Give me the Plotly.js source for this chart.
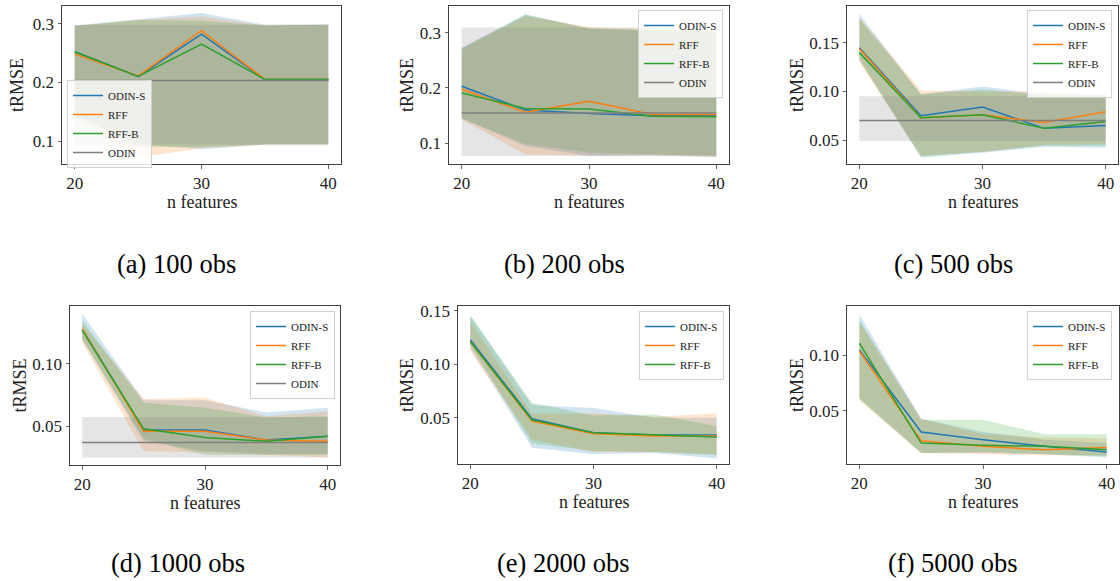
<!DOCTYPE html>
<html><head><meta charset="utf-8">
<script src="https://cdn.plot.ly/plotly-3.0.1.min.js"></script>
<style>html,body{margin:0;padding:0;background:#fff}#chart{width:1120px;height:581px}</style>
</head><body><div id="chart"></div>
<script>
// ---------- DATA ----------
const nFeatures = [20, 25, 30, 35, 40];
const seriesNames = ['ODIN-S', 'RFF', 'RFF-B', 'ODIN'];
const captions = ['(a) 100 obs', '(b) 200 obs', '(c) 500 obs', '(d) 1000 obs', '(e) 2000 obs', '(f) 5000 obs'];
const xTicks = [20, 30, 40];
const xLabel = 'n features';
const yLabel = 'tRMSE';

// (a) 100 obs
const a_odinS = [0.252, 0.210, 0.282, 0.205, 0.205];
const a_odinS_hi = [0.297, 0.307, 0.318, 0.298, 0.299];
const a_odinS_lo = [0.145, 0.095, 0.086, 0.094, 0.094];
const a_rff = [0.248, 0.211, 0.288, 0.205, 0.205];
const a_rff_hi = [0.296, 0.306, 0.312, 0.297, 0.298];
const a_rff_lo = [0.140, 0.072, 0.088, 0.094, 0.094];
const a_rffB = [0.252, 0.210, 0.265, 0.205, 0.205];
const a_rffB_hi = [0.296, 0.306, 0.305, 0.297, 0.298];
const a_rffB_lo = [0.145, 0.090, 0.090, 0.094, 0.094];
const a_yTicks = [0.1, 0.2, 0.3];

// (b) 200 obs
const b_odinS = [0.203, 0.160, 0.154, 0.150, 0.150];
const b_odinS_hi = [0.272, 0.333, 0.307, 0.303, 0.300];
const b_odinS_lo = [0.145, 0.095, 0.077, 0.078, 0.075];
const b_rff = [0.198, 0.156, 0.176, 0.152, 0.152];
const b_rff_hi = [0.270, 0.330, 0.310, 0.306, 0.302];
const b_rff_lo = [0.143, 0.080, 0.078, 0.079, 0.076];
const b_rffB = [0.191, 0.163, 0.162, 0.149, 0.148];
const b_rffB_hi = [0.272, 0.332, 0.308, 0.304, 0.300];
const b_rffB_lo = [0.145, 0.099, 0.083, 0.080, 0.078];
const b_yTicks = [0.1, 0.2, 0.3];

// (c) 500 obs
const c_odinS = [0.145, 0.075, 0.084, 0.062, 0.065];
const c_odinS_hi = [0.180, 0.097, 0.105, 0.097, 0.097];
const c_odinS_lo = [0.133, 0.032, 0.037, 0.043, 0.042];
const c_rff = [0.144, 0.073, 0.076, 0.068, 0.079];
const c_rff_hi = [0.176, 0.101, 0.100, 0.100, 0.097];
const c_rff_lo = [0.130, 0.034, 0.038, 0.045, 0.046];
const c_rffB = [0.140, 0.073, 0.076, 0.062, 0.069];
const c_rffB_hi = [0.175, 0.097, 0.102, 0.096, 0.096];
const c_rffB_lo = [0.133, 0.033, 0.038, 0.044, 0.044];
const c_yTicks = [0.05, 0.10, 0.15];

// (d) 1000 obs
const d_odinS = [0.128, 0.047, 0.047, 0.039, 0.042];
const d_odinS_hi = [0.140, 0.071, 0.071, 0.061, 0.065];
const d_odinS_lo = [0.119, 0.038, 0.030, 0.028, 0.028];
const d_rff = [0.128, 0.046, 0.046, 0.039, 0.038];
const d_rff_hi = [0.132, 0.072, 0.073, 0.058, 0.062];
const d_rff_lo = [0.117, 0.030, 0.029, 0.027, 0.025];
const d_rffB = [0.127, 0.048, 0.041, 0.038, 0.042];
const d_rffB_hi = [0.135, 0.069, 0.065, 0.057, 0.058];
const d_rffB_lo = [0.120, 0.040, 0.027, 0.027, 0.027];
const d_yTicks = [0.05, 0.10];

// (e) 2000 obs
const e_odinS = [0.123, 0.049, 0.036, 0.034, 0.034];
const e_odinS_hi = [0.145, 0.062, 0.059, 0.050, 0.050];
const e_odinS_lo = [0.115, 0.022, 0.016, 0.017, 0.012];
const e_rff = [0.121, 0.047, 0.035, 0.033, 0.033];
const e_rff_hi = [0.140, 0.054, 0.054, 0.051, 0.054];
const e_rff_lo = [0.112, 0.030, 0.018, 0.018, 0.016];
const e_rffB = [0.121, 0.048, 0.036, 0.034, 0.032];
const e_rffB_hi = [0.146, 0.064, 0.052, 0.053, 0.042];
const e_rffB_lo = [0.118, 0.026, 0.019, 0.018, 0.015];
const e_yTicks = [0.05, 0.10, 0.15];

// (f) 5000 obs
const f_odinS = [0.105, 0.031, 0.024, 0.018, 0.013];
const f_odinS_hi = [0.137, 0.043, 0.031, 0.024, 0.021];
const f_odinS_lo = [0.062, 0.012, 0.012, 0.011, 0.009];
const f_rff = [0.104, 0.023, 0.018, 0.015, 0.017];
const f_rff_hi = [0.130, 0.043, 0.029, 0.026, 0.025];
const f_rff_lo = [0.060, 0.012, 0.011, 0.010, 0.010];
const f_rffB = [0.111, 0.021, 0.019, 0.018, 0.015];
const f_rffB_hi = [0.132, 0.042, 0.042, 0.029, 0.029];
const f_rffB_lo = [0.060, 0.012, 0.013, 0.011, 0.008];
const f_yTicks = [0.05, 0.10];

// ODIN baseline (panels a-d only)
const odinMean = [0.203, 0.155, 0.070, 0.037];
const odinLo = [0.094, 0.077, 0.049, 0.025];
const odinHi = [0.298, 0.309, 0.095, 0.0575];

// ---------- STYLE / LAYOUT ----------
const W = 1120, H = 581;
const colors = ['#1f77b4', '#ff7f0e', '#2ca02c', '#7f7f7f'];
const fills = ['rgba(31,119,180,0.2)', 'rgba(255,127,14,0.2)', 'rgba(44,160,44,0.2)', 'rgba(127,127,127,0.2)'];
const serif = 'Liberation Serif, Times New Roman, serif';

const panelData = [
  {m: [a_odinS, a_rff, a_rffB], hi: [a_odinS_hi, a_rff_hi, a_rffB_hi], lo: [a_odinS_lo, a_rff_lo, a_rffB_lo], yt: a_yTicks, fmt: '.1f'},
  {m: [b_odinS, b_rff, b_rffB], hi: [b_odinS_hi, b_rff_hi, b_rffB_hi], lo: [b_odinS_lo, b_rff_lo, b_rffB_lo], yt: b_yTicks, fmt: '.1f'},
  {m: [c_odinS, c_rff, c_rffB], hi: [c_odinS_hi, c_rff_hi, c_rffB_hi], lo: [c_odinS_lo, c_rff_lo, c_rffB_lo], yt: c_yTicks, fmt: '.2f'},
  {m: [d_odinS, d_rff, d_rffB], hi: [d_odinS_hi, d_rff_hi, d_rffB_hi], lo: [d_odinS_lo, d_rff_lo, d_rffB_lo], yt: d_yTicks, fmt: '.2f'},
  {m: [e_odinS, e_rff, e_rffB], hi: [e_odinS_hi, e_rff_hi, e_rffB_hi], lo: [e_odinS_lo, e_rff_lo, e_rffB_lo], yt: e_yTicks, fmt: '.2f'},
  {m: [f_odinS, f_rff, f_rffB], hi: [f_odinS_hi, f_rff_hi, f_rffB_hi], lo: [f_odinS_lo, f_rff_lo, f_rffB_lo], yt: f_yTicks, fmt: '.2f'}
];

// pixel boxes [left, right, top, bottom] and y-ranges
const boxes = [
  [62, 341, 6, 164], [449, 729, 6, 164], [847, 1118, 6, 164],
  [70, 340, 306, 465], [458, 729, 306, 464], [847, 1119, 306, 464]
];
const yRanges = [[0.061, 0.330], [0.0627, 0.348], [0.0253, 0.188], [0.019, 0.1465], [0.0068, 0.1544], [0.0021, 0.1446]];
const yLabelX = [17, 407, 797, 19, 407, 797];
const legendPos = [
  {x: 67, y: 80, xa: 'left'}, {x: 723, y: 10, xa: 'right'}, {x: 1112, y: 10, xa: 'right'},
  {x: 335, y: 311, xa: 'right'}, {x: 724, y: 311, xa: 'right'}, {x: 1112, y: 311, xa: 'right'}
];
const captionPos = [[176, 264], [564, 264], [953, 264], [178, 563], [563, 563], [953, 563]];

const traces = [];
const layout = {
  width: W, height: H, margin: {l: 0, r: 0, t: 0, b: 0},
  paper_bgcolor: '#fff', plot_bgcolor: '#fff', showlegend: true,
  annotations: [], font: {family: serif, color: '#222'}
};
const px = x => x / W, py = y => 1 - y / H;

panelData.forEach((p, i) => {
  const sfx = i === 0 ? '' : String(i + 1);
  const xa = 'x' + sfx, ya = 'y' + sfx;
  const lg = i === 0 ? 'legend' : 'legend' + (i + 1);
  const xRev = nFeatures.slice().reverse();
  const hasOdin = i < odinMean.length;
  // bands
  p.m.forEach((m, s) => {
    traces.push({x: nFeatures.concat(xRev), y: p.hi[s].concat(p.lo[s].slice().reverse()),
      xaxis: xa, yaxis: ya, type: 'scatter', mode: 'lines', fill: 'toself',
      fillcolor: fills[s], line: {width: 0, color: 'rgba(0,0,0,0)'}, showlegend: false, hoverinfo: 'skip'});
  });
  if (hasOdin) {
    const hi = nFeatures.map(() => odinHi[i]), lo = nFeatures.map(() => odinLo[i]);
    traces.push({x: nFeatures.concat(xRev), y: hi.concat(lo), xaxis: xa, yaxis: ya, type: 'scatter',
      mode: 'lines', fill: 'toself', fillcolor: fills[3], line: {width: 0, color: 'rgba(0,0,0,0)'},
      showlegend: false, hoverinfo: 'skip'});
  }
  // lines
  p.m.forEach((m, s) => {
    traces.push({x: nFeatures, y: m, xaxis: xa, yaxis: ya, type: 'scatter', mode: 'lines',
      name: seriesNames[s], legend: lg, line: {color: colors[s], width: 1.5}});
  });
  if (hasOdin) {
    traces.push({x: nFeatures, y: nFeatures.map(() => odinMean[i]), xaxis: xa, yaxis: ya, type: 'scatter',
      mode: 'lines', name: seriesNames[3], legend: lg, line: {color: colors[3], width: 1.5}});
  }
  const b = boxes[i];
  const axCommon = {showline: true, mirror: true, linecolor: '#404040', linewidth: 1, ticks: 'outside',
    ticklen: 3.5, tickwidth: 0.8, tickcolor: '#404040', showgrid: false, zeroline: false,
    tickfont: {family: serif, size: 17, color: '#222'}, fixedrange: true};
  layout['xaxis' + sfx] = Object.assign({}, axCommon, {domain: [px(b[0]), px(b[1])], range: [19, 41],
    tickvals: xTicks, anchor: ya});
  layout['yaxis' + sfx] = Object.assign({}, axCommon, {domain: [py(b[3]), py(b[2])], range: yRanges[i],
    tickvals: p.yt, tickformat: p.fmt, anchor: xa});
  const L = legendPos[i];
  layout[lg] = {x: px(L.x), y: py(L.y), xanchor: L.xa, yanchor: 'top', xref: 'paper', yref: 'paper',
    bgcolor: 'rgba(255,255,255,0.8)', bordercolor: '#d0d0d0', borderwidth: 1,
    font: {family: serif, size: 11, color: '#222'}, tracegroupgap: 0, itemwidth: 30, traceorder: 'normal'};
  // axis titles & captions
  layout.annotations.push({text: xLabel, xref: 'paper', yref: 'paper', x: px((b[0] + b[1]) / 2),
    y: py(b[3] + 38), xanchor: 'center', yanchor: 'middle', showarrow: false,
    font: {family: serif, size: 18, color: '#222'}});
  layout.annotations.push({text: yLabel, xref: 'paper', yref: 'paper', x: px(yLabelX[i]),
    y: py((b[2] + b[3]) / 2), xanchor: 'center', yanchor: 'middle', showarrow: false, textangle: -90,
    font: {family: serif, size: 18, color: '#222'}});
  layout.annotations.push({text: captions[i], xref: 'paper', yref: 'paper', x: px(captionPos[i][0]),
    y: py(captionPos[i][1]), xanchor: 'center', yanchor: 'middle', showarrow: false,
    font: {family: serif, size: 26.5, color: '#000'}});
});

Plotly.newPlot('chart', traces, layout, {staticPlot: true, displayModeBar: false});
</script></body></html>
